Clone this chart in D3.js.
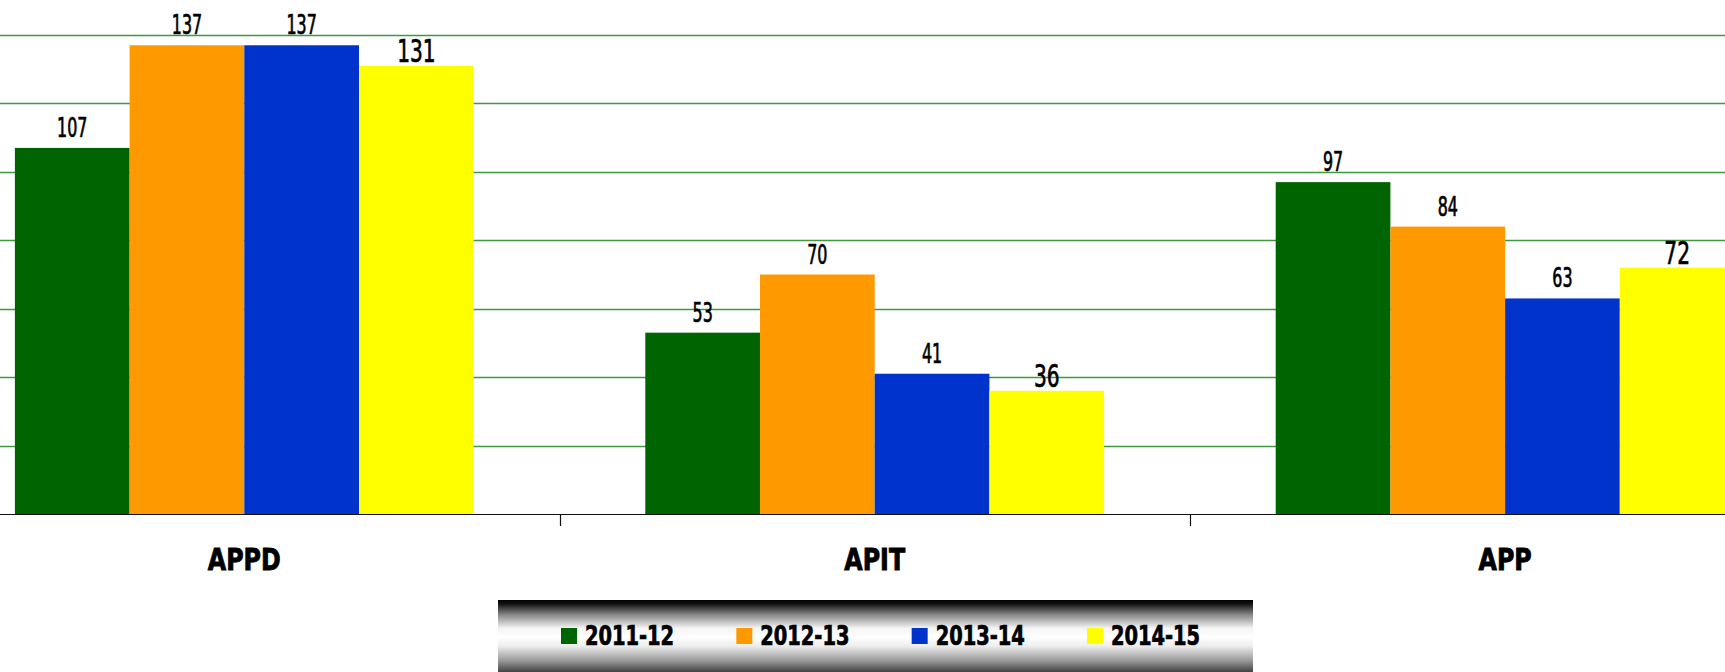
<!DOCTYPE html>
<html>
<head>
<meta charset="utf-8">
<script src="https://cdn.jsdelivr.net/npm/d3@7"></script>
<style>
html,body{margin:0;padding:0;background:#fff;overflow:hidden;}
svg{display:block;}
</style>
</head>
<body>
<svg id="chart" width="1725" height="672"></svg>
<script>
const categories = ["APPD", "APIT", "APP"];
const seriesNames = ["2011-12", "2012-13", "2013-14", "2014-15"];
const seriesColors = ["#006400", "#FF9900", "#0033CC", "#FFFF00"];
const values2011 = [107, 53, 97];
const values2012 = [137, 70, 84];
const values2013 = [137, 41, 63];
const values2014 = [131, 36, 72];
const gridTicks = [20, 40, 60, 80, 100, 120, 140];

const seriesValues = [values2011, values2012, values2013, values2014];
const W = 1725, H = 672;
const svg = d3.select("#chart");
const FONT = "'DejaVu Sans Condensed','DejaVu Sans',sans-serif";

const baseY = 514, topY = 35;
const y = d3.scaleLinear().domain([0, 140]).range([baseY, topY]);
const x0 = d3.scaleBand().domain(categories).range([-70.9, -70.9 + 630.4 * 3]).padding(0);
const x1 = d3.scaleBand().domain(seriesNames).range([0, x0.bandwidth()]).paddingInner(0).paddingOuter(0.748);

// gridlines
svg.append("g").selectAll("line").data(gridTicks).join("line")
  .attr("x1", 0).attr("x2", W)
  .attr("y1", d => Math.round(y(d)) + 0.5).attr("y2", d => Math.round(y(d)) + 0.5)
  .attr("stroke", "#3f9a3f").attr("stroke-width", 1.4);

// bars
const groups = svg.append("g").selectAll("g").data(categories).join("g")
  .attr("transform", d => `translate(${x0(d)},0)`);

groups.each(function(cat, ci) {
  const g = d3.select(this);
  const data = seriesNames.map((s, si) => ({s, si, v: seriesValues[si][ci]}));
  g.selectAll("rect").data(data).join("rect")
    .attr("x", d => x1(d.s))
    .attr("y", d => y(d.v))
    .attr("width", x1.bandwidth())
    .attr("height", d => baseY - y(d.v))
    .attr("fill", d => seriesColors[d.si]);
  g.selectAll("text").data(data).join("text")
    .attr("transform", d => `translate(${x1(d.s) + x1.bandwidth() / 2},${y(d.v) - (d.si === 3 ? 4 : 11)}) scale(${d.si === 3 ? 0.7 : 0.68},1)`)
    .attr("text-anchor", "middle")
    .attr("font-family", FONT)
    .attr("font-size", d => d.si === 3 ? 32 : 26)
    .attr("fill", "#000")
    .attr("stroke", "#000").attr("stroke-width", 0.7)
    .text(d => d.v);
});

// x axis
const xAxis = svg.append("g");
xAxis.append("line").attr("x1", 0).attr("x2", W)
  .attr("y1", baseY + 0.5).attr("y2", baseY + 0.5)
  .attr("stroke", "#111").attr("stroke-width", 1.2);
const boundaries = categories.slice(1).map(c => x0(c));
xAxis.selectAll("line.tick").data(boundaries).join("line").attr("class", "tick")
  .attr("x1", d => Math.round(d) + 0.5).attr("x2", d => Math.round(d) + 0.5)
  .attr("y1", baseY).attr("y2", baseY + 12)
  .attr("stroke", "#111").attr("stroke-width", 1.2);
xAxis.selectAll("text").data(categories).join("text")
  .attr("transform", d => `translate(${x0(d) + x0.bandwidth() / 2},570) scale(0.88,1)`)
  .attr("text-anchor", "middle")
  .attr("font-family", FONT)
  .attr("font-weight", "bold")
  .attr("font-size", 30)
  .attr("fill", "#000")
  .attr("stroke", "#000").attr("stroke-width", 0.8)
  .text(d => d);

// legend
const defs = svg.append("defs");
const grad = defs.append("linearGradient").attr("id", "lg").attr("x1", 0).attr("y1", 0).attr("x2", 0).attr("y2", 1);
[[0, "#000"], [0.05, "#111"], [0.2, "#888"], [0.38, "#f4f4f4"], [0.5, "#fff"], [0.62, "#eee"], [0.82, "#999"], [1, "#333"]]
  .forEach(([o, c]) => grad.append("stop").attr("offset", o).attr("stop-color", c));
const legend = svg.append("g");
legend.append("rect").attr("x", 498).attr("y", 600).attr("width", 755).attr("height", 74).attr("fill", "url(#lg)");
const lx = d3.scalePoint().domain(seriesNames).range([561, 1087]);
const items = legend.selectAll("g").data(seriesNames).join("g")
  .attr("transform", d => `translate(${lx(d)},628)`);
items.append("rect").attr("width", 16).attr("height", 16).attr("fill", (d, i) => seriesColors[i]);
items.append("text").attr("transform", "translate(24,17) scale(0.83,1)")
  .attr("font-family", FONT).attr("font-weight", "bold").attr("font-size", 26)
  .attr("fill", "#000")
  .attr("stroke", "#000").attr("stroke-width", 0.7)
  .text(d => d);
</script>
</body>
</html>
